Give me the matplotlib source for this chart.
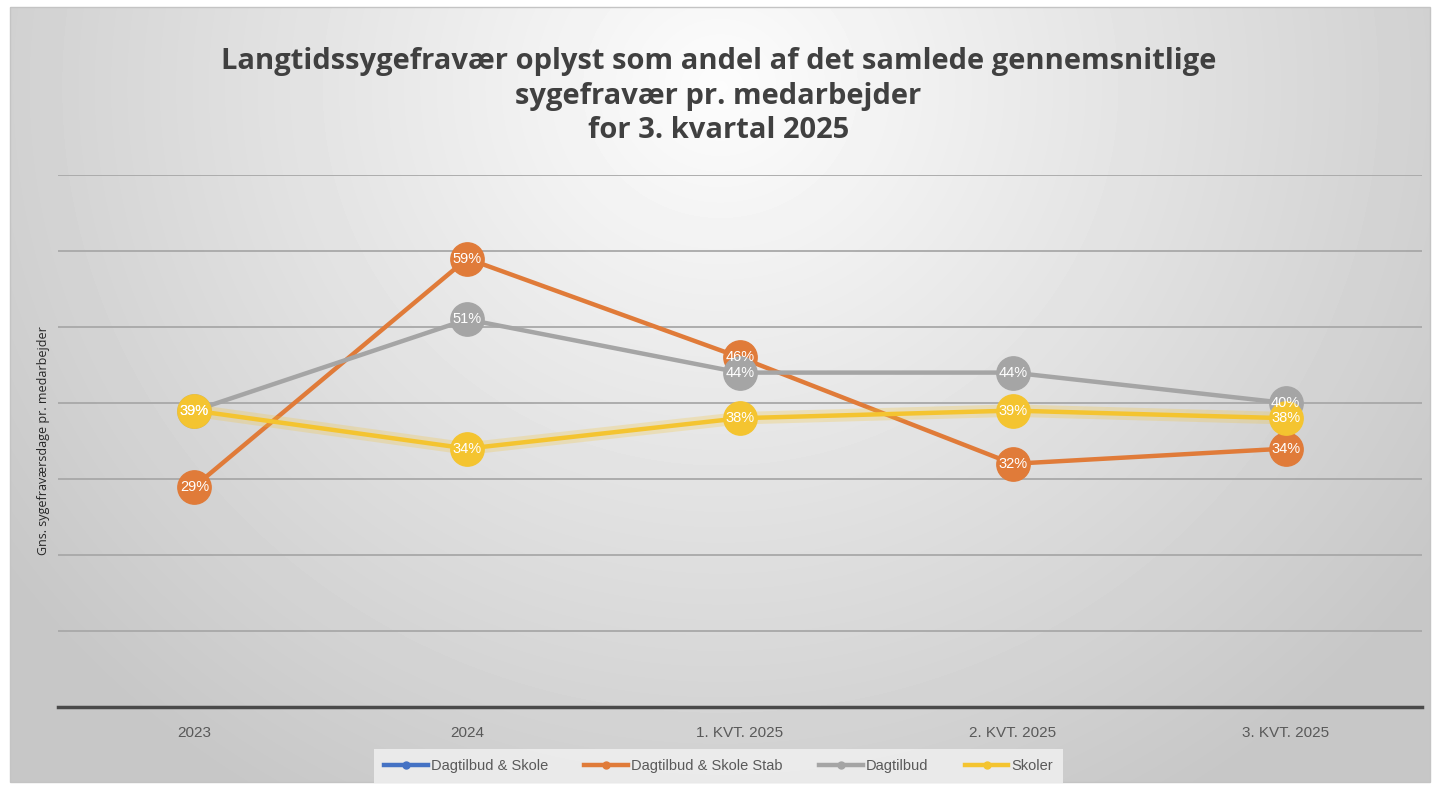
import numpy as np
import matplotlib.pyplot as plt
from matplotlib.patches import Rectangle

categories = ["2023", "2024", "1. KVT. 2025", "2. KVT. 2025", "3. KVT. 2025"]
series_names = ["Dagtilbud & Skole", "Dagtilbud & Skole Stab", "Dagtilbud", "Skoler"]
dagtilbud_skole = [np.nan, np.nan, np.nan, np.nan, np.nan]
stab = [29, 59, 46, 32, 34]
dagtilbud = [39, 51, 44, 44, 40]
skoler = [39, 34, 38, 39, 38]

colors = ["#4472c4", "#e07b39", "#a5a5a5", "#f4c430"]
title = ("Langtidssygefravær oplyst som andel af det samlede gennemsnitlige\n"
         "sygefravær pr. medarbejder\nfor 3. kvartal 2025")

W, H = 1437, 789
fig = plt.figure(figsize=(W / 100, H / 100), dpi=100)
fig.patch.set_facecolor("white")

# radial background
bg = fig.add_axes([10 / W, 7 / H, 1420 / W, 775 / H], zorder=0)
yy, xx = np.mgrid[0:775, 0:1420]
r = np.sqrt(((xx - 710) / 1000) ** 2 + ((yy - 80) / 950) ** 2)
val = np.clip(0.99 - 0.24 * r, 0.78, 1.0)
bg.imshow(val, cmap="gray", vmin=0, vmax=1, aspect="auto", interpolation="bilinear")
bg.set_axis_off()
fig.patches.append(Rectangle((10 / W, 7 / H), 1420 / W, 775 / H, transform=fig.transFigure,
                             fill=False, edgecolor="#c4c4c4", lw=1, zorder=1))

ax = fig.add_axes([58 / W, 1 - 707 / H, 1364 / W, (707 - 175) / H], zorder=2)
ax.patch.set_alpha(0)
x = np.arange(len(categories))
ax.set_xlim(-0.5, len(categories) - 0.5)
ax.set_ylim(0, 70)
ax.set_yticks(np.arange(10, 80, 10))
ax.yaxis.grid(True, color="#a8a8a8", lw=1.3)
ax.tick_params(axis="y", length=0, labelleft=False)
ax.tick_params(axis="x", length=0, pad=14, labelsize=11, labelcolor="#595959")
ax.set_xticks(x)
ax.set_xticklabels(categories, family="Liberation Sans")
for s in ["top", "right", "left"]:
    ax.spines[s].set_visible(False)
ax.spines["bottom"].set_color("#4a4a4a")
ax.spines["bottom"].set_linewidth(2.5)

ax.set_ylabel("Gns. sygefraværsdage pr. medarbejder", fontsize=9, color="#262626",
              family="Open Sans", labelpad=6)

data = [dagtilbud_skole, stab, dagtilbud, skoler]
for name, vals, c, z in zip(series_names, data, colors, [3, 4, 4.5, 5]):
    if name == "Skoler":
        ax.plot(x, vals, color=c, lw=9, alpha=0.25, zorder=z - 0.1, solid_capstyle="round")
    ax.plot(x, vals, color=c, lw=3.2, marker="o", markersize=24, zorder=z, label=name)
    # data labels sit above every marker, like Excel
    for xi, v in zip(x, vals):
        if np.isnan(v):
            continue
        ax.text(xi, v, f"{v:.0f}%", ha="center", va="center", fontsize=10.5, color="white",
                zorder=10, family="Liberation Sans")

fig.text(0.5, 0.94, title, ha="center", va="top", fontsize=21, fontweight="bold",
         color="#404040", family="Open Sans", linespacing=1.25)

leg_handles = []
for c, name in zip(colors, series_names):
    lh, = ax.plot([], [], color=c, lw=3.2, marker="o", markersize=5, label=name)
    leg_handles.append(lh)
leg = fig.legend(handles=leg_handles, loc="center", bbox_to_anchor=(0.5, 1 - 766 / H),
                 ncol=4, frameon=True, handlelength=3, columnspacing=2.5,
                 handletextpad=0.2, prop={"family": "Liberation Sans", "size": 10.5})
leg.get_frame().set_facecolor("#eeeeee")
leg.get_frame().set_edgecolor("none")
leg.get_frame().set_alpha(0.9)
leg.get_frame().set_boxstyle("square", pad=0.3)
for t in leg.get_texts():
    t.set_color("#595959")

fig.savefig("out.png", dpi=100)
